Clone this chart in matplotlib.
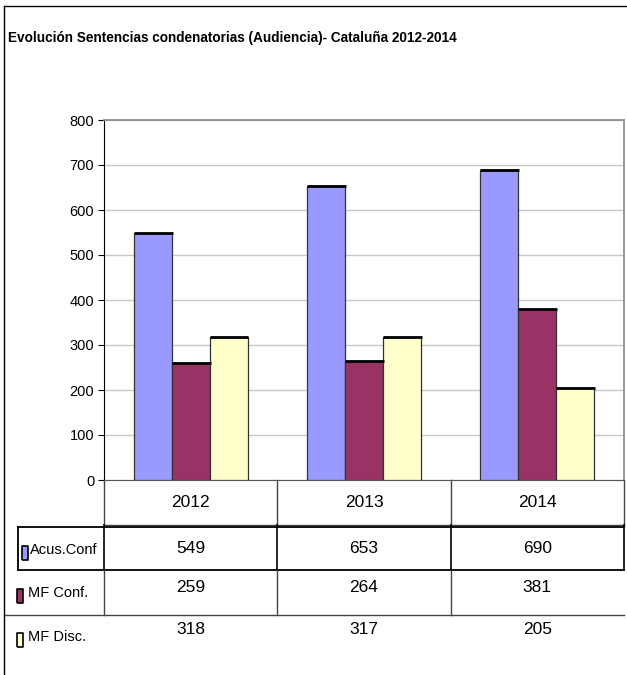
import matplotlib.pyplot as plt
from matplotlib.lines import Line2D
import numpy as np

# Datos del gráfico
years = ["2012", "2013", "2014"]
series_names = ["Acus.Conf", "MF Conf.", "MF Disc."]
acus_conf = [549, 653, 690]
mf_conf = [259, 264, 381]
mf_disc = [318, 317, 205]
y_ticks = [0, 100, 200, 300, 400, 500, 600, 700, 800]

colors = ["#9999FF", "#993366", "#FFFFCC"]
series = [acus_conf, mf_conf, mf_disc]

fam = ["Liberation Sans", "DejaVu Sans"]

fig = plt.figure(figsize=(6.27, 6.75), dpi=100)
W, H = 627, 675


def fx(px):
    return px / W


def fy(py):
    return 1 - py / H


# marco exterior
fig.add_artist(Line2D([fx(4), fx(4)], [fy(6), 0], color="black", lw=1))
fig.add_artist(Line2D([fx(4), 1], [fy(6), fy(6)], color="black", lw=1))

fig.text(fx(8), fy(38), "Evolución Sentencias condenatorias (Audiencia)- Cataluña 2012-2014",
         family=fam, fontweight="bold", fontsize=9.8, va="center", ha="left")

ax = fig.add_axes([fx(104), fy(480), fx(624) - fx(104), fy(120) - fy(480)])

x = np.arange(len(years))
bw = 0.219
for i, (vals, c) in enumerate(zip(series, colors)):
    pos = x + (i - 1) * bw
    ax.bar(pos, vals, width=bw, color=c, edgecolor="#333333", linewidth=0.9, zorder=3)
    ax.hlines(vals, pos - bw / 2, pos + bw / 2 + 0.005, color="black", lw=2, zorder=4)

ax.set_xlim(-0.5, 2.5)
ax.set_ylim(0, 800)
ax.set_yticks(y_ticks)
ax.set_yticklabels([str(t) for t in y_ticks], family=fam, fontsize=10.5)
ax.set_xticks([])
ax.tick_params(axis="y", length=4, width=0.8, pad=3)
ax.grid(axis="y", color="#c8c8c8", lw=1, zorder=0)
ax.set_axisbelow(True)
for s in ["top", "right"]:
    ax.spines[s].set_color("#888888")
    ax.spines[s].set_linewidth(1.2)
ax.spines["left"].set_color("black")
ax.spines["bottom"].set_color("#555555")

# tabla de datos
tr = ax.get_xaxis_transform()
rh = 0.125
bounds = [-0.5, 0.5, 1.5, 2.5]


def px_to_x(px):
    return (px - 104) / 520 * 3 - 0.5


def hline(y, x0, x1, color="black", lw=1):
    ax.add_line(Line2D([x0, x1], [y, y], transform=tr, color=color, lw=lw, clip_on=False))


def vline(xv, y0, y1, color="black", lw=1):
    ax.add_line(Line2D([xv, xv], [y0, y1], transform=tr, color=color, lw=lw, clip_on=False))


# fila de años
for b in bounds:
    vline(b, 0, -rh, color="#444444")
hline(-rh, -0.5, 2.5, color="#444444")
for i, yr in enumerate(years):
    ax.text(i, -rh / 2, yr, transform=tr, ha="center", va="center",
            family=fam, fontsize=12.5)

# fila Acus.Conf (con caja)
hline(-rh - 0.005, px_to_x(18), 2.5, lw=1.3)
hline(-2 * rh, px_to_x(18), 2.5, lw=1.3)
vline(px_to_x(18), -rh - 0.005, -2 * rh, lw=1.3)
for b in bounds:
    vline(b, -rh, -2 * rh, lw=1.2)

# fila MF Conf.
for b in bounds[:3]:
    vline(b, -2 * rh, -3 * rh, color="#444444")
hline(-3 * rh, px_to_x(4), 2.5, color="#444444")

row_y = [-1.53 * rh, -2.4 * rh, -3.33 * rh]
label_y = [-1.55 * rh, -2.51 * rh, -3.49 * rh]
marker_x = [px_to_x(25), px_to_x(20), px_to_x(20)]
text_x = [px_to_x(30), px_to_x(28), px_to_x(28)]
rect = [(-0.5, -1), (0.5, -1), (0.5, 1), (-0.5, 1), (-0.5, -1)]
for j, (name, vals, c) in enumerate(zip(series_names, series, colors)):
    for i, v in enumerate(vals):
        ax.text(i, row_y[j], str(v), transform=tr, ha="center", va="center",
                family=fam, fontsize=12.5)
    ax.add_line(Line2D([marker_x[j]], [label_y[j] - 0.008], transform=tr, marker=rect,
                       markersize=10, markerfacecolor=c, markeredgecolor="black",
                       markeredgewidth=1.2, ls="none", clip_on=False))
    ax.text(text_x[j], label_y[j], name, transform=tr, ha="left", va="center",
            family=fam, fontsize=10.5)

fig.savefig("out.png", dpi=100)
